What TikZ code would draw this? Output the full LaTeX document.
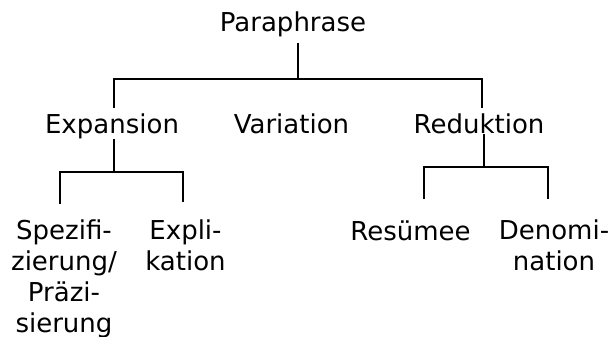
\documentclass[tikz,border=0pt]{standalone}
\usepackage{fontspec}
\setmainfont{DejaVu Sans}
\begin{document}
\begin{tikzpicture}[x=1pt, y=-1pt,
  lbl/.style={inner sep=0pt, outer sep=0pt, font=\fontsize{26}{30.8}\selectfont},
  multi/.style={lbl, align=center, anchor=north},
  edge/.style={draw=black, line width=2pt}]
  \useasboundingbox[fill=white] (0,0) rectangle (610,337);

  % labels, first line baselines at y = 32, 133, 240
  \node[lbl, anchor=base] (para) at (293,32) {Paraphrase};
  \node[lbl, anchor=base] (exp)  at (112,133) {Expansion};
  \node[lbl, anchor=base] (var)  at (291.5,133) {Variation};
  \node[lbl, anchor=base] (red)  at (479,133) {Reduktion};
  \node[multi] (spez) at (64,220.2) {Spezifi-\\zierung/\\Präzi-\\sierung};
  \node[multi] (expl) at (185.5,220.2) {Expli-\\kation};
  \node[lbl, anchor=base] (res) at (410.5,240) {Resümee};
  \node[multi] (deno) at (554,220.2) {Denomi-\\nation};

  % junction points of the forks
  \coordinate (jtop) at (298,79);
  \coordinate (jl)   at (114,79);
  \coordinate (jr)   at (482,79);
  \coordinate (je)   at (114,171.5);
  \coordinate (je1)  at (59.5,171.5);
  \coordinate (je2)  at (183,171.5);
  \coordinate (jd)   at (484,166.7);
  \coordinate (jd1)  at (424,166.7);
  \coordinate (jd2)  at (548,166.7);

  % Paraphrase -> Expansion / Reduktion
  \draw[edge, shorten <=6pt] (para.south -| jtop) -- (jtop);
  \draw[edge, shorten <=5pt, shorten >=5pt] (exp.north -| jl) -- (jl) -- (jr) -- (red.north -| jr);

  % Expansion -> Spezifizierung / Explikation
  \draw[edge, shorten <=1pt] (exp.south -| je) -- (je);
  \draw[edge, shorten <=16pt, shorten >=18pt] (spez.north -| je1) -- (je1) -- (je2) -- (expl.north -| je2);

  % Reduktion -> Resümee / Denomination
  \draw[edge, shorten <=1pt] (red.south -| jd) -- (jd);
  \draw[edge, shorten <=21.5pt, shorten >=21pt] (res.north -| jd1) -- (jd1) -- (jd2) -- (deno.north -| jd2);
\end{tikzpicture}
\end{document}
